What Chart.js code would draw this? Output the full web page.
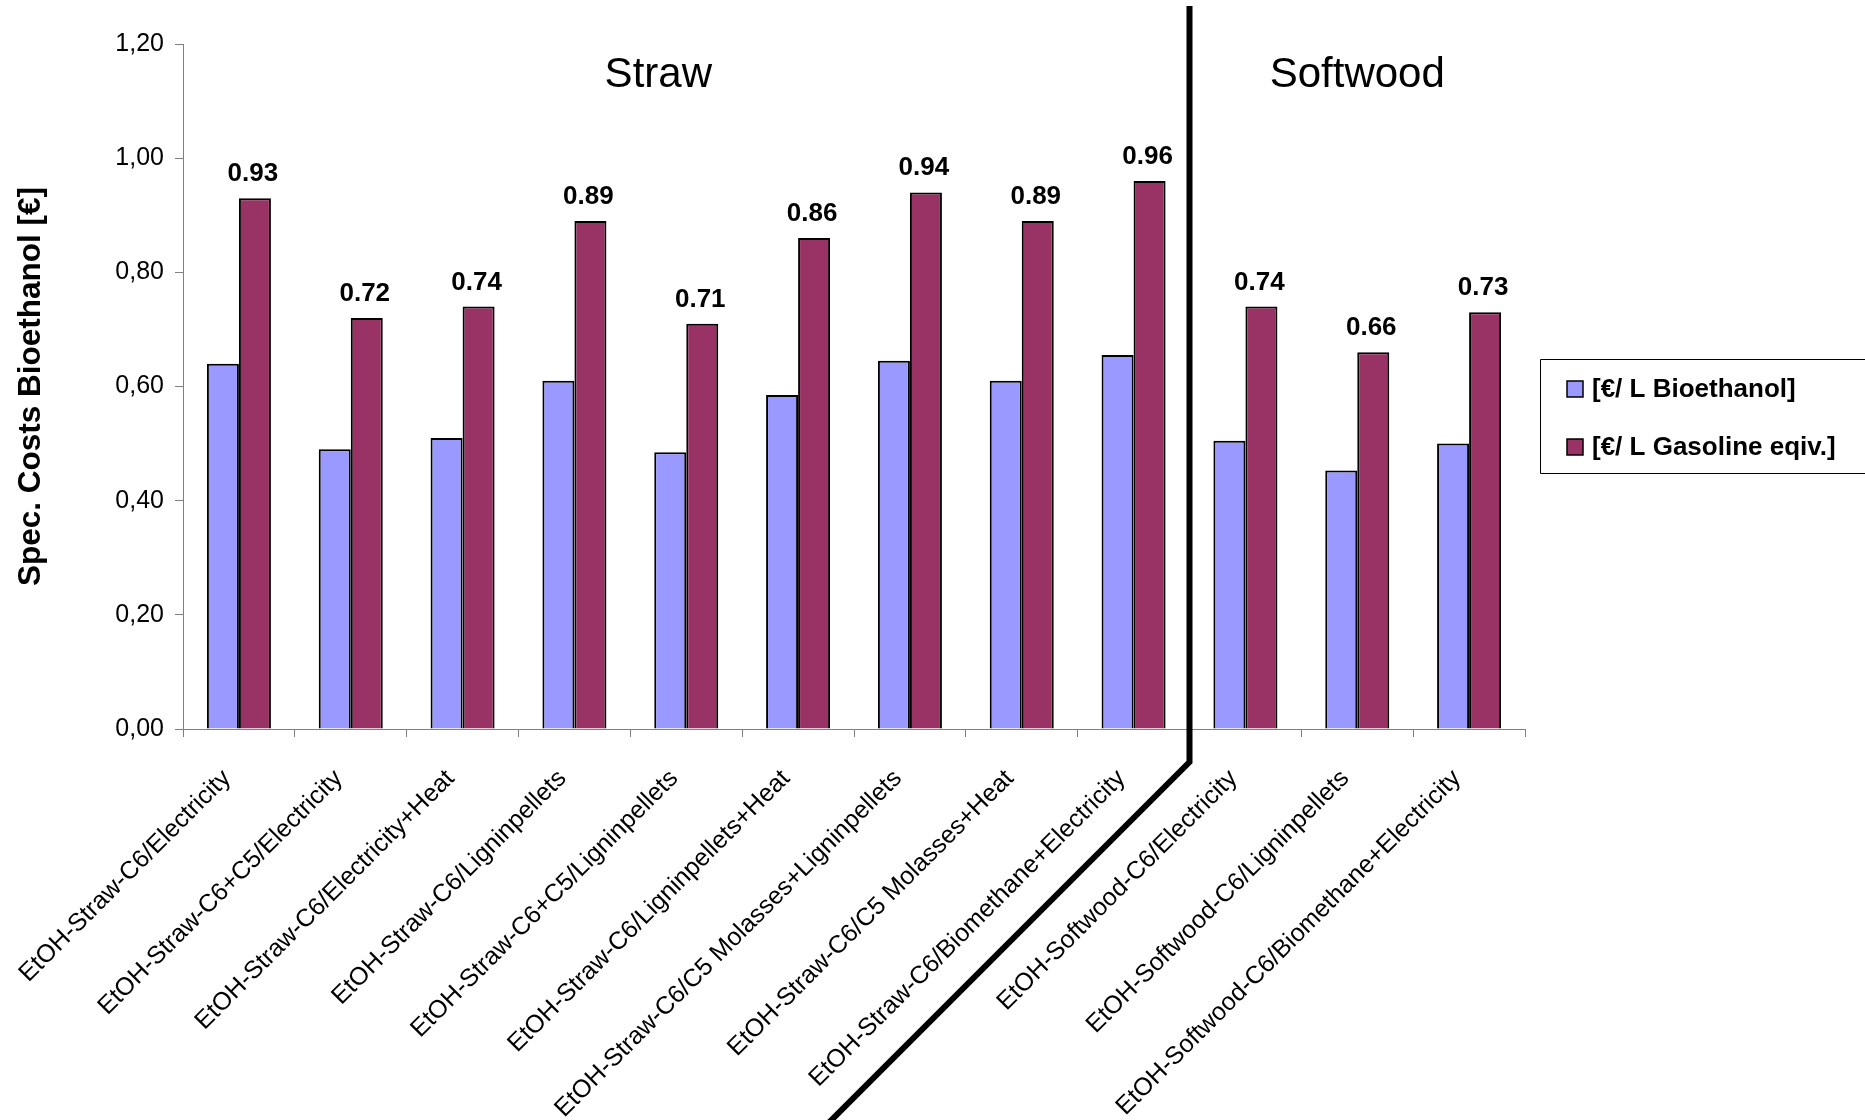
<!DOCTYPE html>
<html>
<head>
<meta charset="utf-8">
<script src="https://cdn.jsdelivr.net/npm/chart.js@4.4.1/dist/chart.umd.min.js"></script>
<style>
  html, body { margin: 0; padding: 0; background: #ffffff; }
  #wrap { width: 1865px; height: 1120px; position: relative; }
</style>
</head>
<body>
<div id="wrap"><canvas id="c" width="1865" height="1120"></canvas></div>
<script>
// Process variants, grouped by feedstock (first nine straw, last three softwood)
const categories = [
  'EtOH-Straw-C6/Electricity',
  'EtOH-Straw-C6+C5/Electricity',
  'EtOH-Straw-C6/Electricity+Heat',
  'EtOH-Straw-C6/Ligninpellets',
  'EtOH-Straw-C6+C5/Ligninpellets',
  'EtOH-Straw-C6/Ligninpellets+Heat',
  'EtOH-Straw-C6/C5 Molasses+Ligninpellets',
  'EtOH-Straw-C6/C5 Molasses+Heat',
  'EtOH-Straw-C6/Biomethane+Electricity',
  'EtOH-Softwood-C6/Electricity',
  'EtOH-Softwood-C6/Ligninpellets',
  'EtOH-Softwood-C6/Biomethane+Electricity'
];

// Specific costs in € per litre
const bioethanolCost = [0.64, 0.49, 0.51, 0.61, 0.485, 0.585, 0.645, 0.61, 0.655, 0.505, 0.453, 0.50];
const gasolineEqCost = [0.93, 0.72, 0.74, 0.89, 0.71, 0.86, 0.94, 0.89, 0.96, 0.74, 0.66, 0.73];

const seriesLabels = ['[€/ L Bioethanol]', '[€/ L Gasoline eqiv.]'];
const seriesColors = ['#9999FF', '#993366'];

const yTickLabels = ['0,00', '0,20', '0,40', '0,60', '0,80', '1,00', '1,20'];

// Feedstock group headings and how many categories each spans
const groupNames = ['Straw', 'Softwood'];
const groupSizes = [9, 3];

const FONT = '"Liberation Sans", Arial, Helvetica, sans-serif';
Chart.defaults.font.family = FONT;
Chart.defaults.color = '#000';

const overlay = {
  id: 'overlay',
  afterDatasetsDraw(chart) {
    // value labels above the gasoline-equivalent bars
    const ctx = chart.ctx;
    const meta = chart.getDatasetMeta(1);
    ctx.save();
    ctx.font = 'bold 26px ' + FONT;
    ctx.fillStyle = '#000';
    ctx.textAlign = 'center';
    ctx.textBaseline = 'alphabetic';
    meta.data.forEach((bar, i) => {
      ctx.fillText(gasolineEqCost[i].toFixed(2), bar.x - 2, bar.y - 17);
    });
    ctx.restore();
  },
  afterDraw(chart) {
    const ctx = chart.ctx;
    const xs = chart.scales.x;
    const area = chart.chartArea;

    // divider between the straw and softwood groups
    const split = groupSizes[0];
    const xDiv = (xs.getPixelForValue(split - 1) + xs.getPixelForValue(split)) / 2;
    const bendY = area.bottom + 33;
    ctx.save();
    ctx.strokeStyle = '#000';
    ctx.lineWidth = 6;
    ctx.lineJoin = 'miter';
    ctx.beginPath();
    ctx.moveTo(xDiv, 6);
    ctx.lineTo(xDiv, bendY);
    ctx.lineTo(xDiv - (1130 - bendY), 1130);
    ctx.stroke();
    ctx.restore();

    // group headings
    ctx.save();
    ctx.font = '42px ' + FONT;
    ctx.fillStyle = '#000';
    ctx.textAlign = 'center';
    ctx.textBaseline = 'alphabetic';
    ctx.fillText(groupNames[0], xs.getPixelForValue(3.75), area.top + 43);
    ctx.fillText(groupNames[1], xs.getPixelForValue(split + (groupSizes[1] - 1) / 2), area.top + 43);
    ctx.restore();

    // legend box (open on the right edge)
    const lx = 1540.5, ly = 359.5, lb = 473.5;
    ctx.save();
    ctx.strokeStyle = '#000';
    ctx.lineWidth = 1;
    ctx.beginPath();
    ctx.moveTo(1865, ly);
    ctx.lineTo(lx, ly);
    ctx.lineTo(lx, lb);
    ctx.lineTo(1865, lb);
    ctx.stroke();
    ctx.font = 'bold 26px ' + FONT;
    ctx.textAlign = 'left';
    ctx.textBaseline = 'middle';
    chart.data.datasets.forEach((ds, i) => {
      const cy = 389 + i * 58;
      ctx.fillStyle = ds.backgroundColor;
      ctx.fillRect(1567, cy - 8, 16, 16);
      ctx.strokeStyle = '#000';
      ctx.lineWidth = 1.5;
      ctx.strokeRect(1567, cy - 8, 16, 16);
      ctx.fillStyle = '#000';
      ctx.fillText(ds.label, 1592, cy + 1);
    });
    ctx.restore();
  }
};

new Chart(document.getElementById('c').getContext('2d'), {
  type: 'bar',
  data: {
    labels: categories,
    datasets: [
      {
        label: seriesLabels[0],
        data: bioethanolCost,
        backgroundColor: seriesColors[0],
        borderColor: '#000',
        borderWidth: 2,
        categoryPercentage: 0.5725,
        barPercentage: 1
      },
      {
        label: seriesLabels[1],
        data: gasolineEqCost,
        backgroundColor: seriesColors[1],
        borderColor: '#000',
        borderWidth: 2,
        categoryPercentage: 0.5725,
        barPercentage: 1
      }
    ]
  },
  options: {
    responsive: false,
    animation: false,
    layout: { padding: { top: 44, right: 340, left: 0, bottom: 0 } },
    plugins: {
      legend: { display: false },
      tooltip: { enabled: false }
    },
    scales: {
      x: {
        offset: true,
        grid: {
          display: true,
          offset: true,
          drawOnChartArea: false,
          drawTicks: true,
          tickLength: 8,
          color: '#808080'
        },
        border: { color: '#808080', width: 1 },
        ticks: {
          autoSkip: false,
          minRotation: 45,
          maxRotation: 45,
          color: '#000',
          font: { size: 25 },
          padding: 27,
          labelOffset: -12
        },
        afterFit(scale) { scale.height = 391; }
      },
      y: {
        min: 0,
        max: 1.2,
        ticks: {
          stepSize: 0.2,
          color: '#000',
          font: { size: 25 },
          padding: 11,
          callback: (value) => yTickLabels[Math.round(value / 0.2)]
        },
        grid: {
          drawOnChartArea: false,
          drawTicks: true,
          tickLength: 8,
          color: '#808080'
        },
        border: { color: '#808080', width: 1 },
        title: {
          display: true,
          text: 'Spec. Costs Bioethanol [€]',
          color: '#000',
          font: { size: 31.5, weight: 'bold' },
          padding: { top: 12, bottom: 0 }
        },
        afterFit(scale) { scale.width = 183; }
      }
    }
  },
  plugins: [overlay]
});
</script>
</body>
</html>
